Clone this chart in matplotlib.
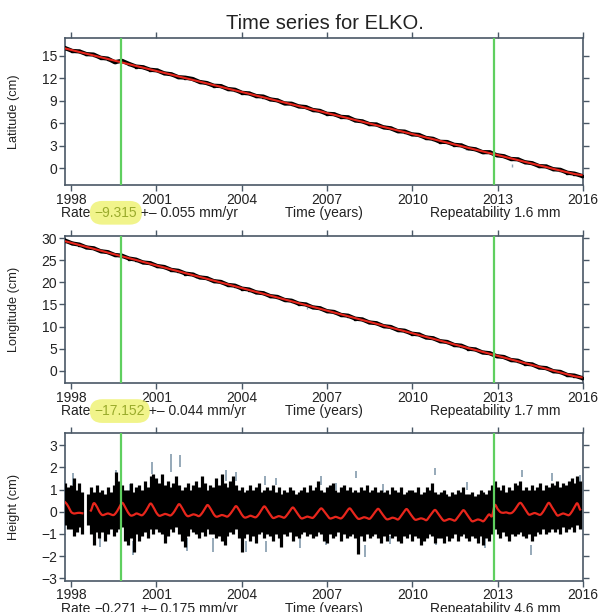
import numpy as np
import matplotlib
matplotlib.use("Agg")
import matplotlib.pyplot as plt

plt.rcParams['font.family'] = ['Liberation Sans', 'DejaVu Sans']

# ---------------- data ----------------
station = "ELKO"
year_ticks = [1998, 2001, 2004, 2007, 2010, 2013, 2016]
events = [1999.75, 2012.88]          # green vertical lines (equipment changes)
t_start, t_end = 1997.8, 2015.95

lat_obs = [16.05, 15.67, 15.61, 15.25, 15.19, 14.76, 14.65, 14.17, 14.36, 13.95,
           13.59, 13.50, 13.16, 13.07, 12.68, 12.56, 12.17, 12.10, 11.93, 11.53,
           11.39, 11.03, 10.98, 10.59, 10.49, 10.08, 10.00, 9.65, 9.58, 9.20,
           9.07, 8.66, 8.63, 8.27, 8.18, 7.79, 7.67, 7.28, 7.23, 6.87,
           6.81, 6.39, 6.27, 5.91, 5.85, 5.47, 5.35, 4.96, 4.90, 4.54,
           4.46, 4.06, 3.94, 3.54, 3.51, 3.14, 3.06, 2.67, 2.54, 2.16,
           2.15, 1.75, 1.62, 1.25, 1.20, 0.81, 0.69, 0.30, 0.25, -0.12,
           -0.20, -0.59, -0.71, -1.00]
lat_model = [16.00, 15.77, 15.53, 15.30, 15.07, 14.84, 14.60, 14.37, 14.14, 13.90,
             13.67, 13.44, 13.21, 12.97, 12.74, 12.51, 12.27, 12.04, 11.81, 11.58,
             11.34, 11.11, 10.88, 10.64, 10.41, 10.18, 9.95, 9.71, 9.48, 9.25,
             9.01, 8.78, 8.55, 8.32, 8.08, 7.85, 7.62, 7.38, 7.15, 6.92,
             6.69, 6.45, 6.22, 5.99, 5.75, 5.52, 5.29, 5.06, 4.82, 4.59,
             4.36, 4.12, 3.89, 3.66, 3.43, 3.19, 2.96, 2.73, 2.49, 2.26,
             2.03, 1.80, 1.56, 1.33, 1.10, 0.86, 0.63, 0.40, 0.17, -0.07,
             -0.30, -0.53, -0.76, -0.90]
lat_out_t = [2001.7, 2011.9, 2013.5]
lat_out_lo = [12.1, 2.4, 0.2]
lat_out_hi = [12.4, 2.7, 0.6]

lon_obs = [29.45, 28.80, 28.55, 27.90, 27.72, 27.05, 26.85, 26.20, 26.05, 25.40,
           25.15, 24.50, 24.35, 23.70, 23.48, 22.82, 22.62, 21.98, 21.78, 21.12,
           20.95, 20.28, 20.10, 19.42, 19.25, 18.58, 18.38, 17.72, 17.55, 16.88,
           16.70, 16.02, 15.85, 15.18, 15.00, 14.33, 14.15, 13.48, 13.30, 12.62,
           12.45, 11.78, 11.60, 10.92, 10.75, 10.08, 9.90, 9.22, 9.05, 8.38,
           8.20, 7.52, 7.35, 6.68, 6.50, 5.82, 5.66, 4.98, 4.80, 4.12,
           3.96, 3.28, 3.10, 2.42, 2.25, 1.58, 1.42, 0.72, 0.58, -0.12,
           -0.28, -0.98, -1.12, -1.62]
lon_model = [29.30, 28.88, 28.45, 28.03, 27.60, 27.18, 26.75, 26.33, 25.90, 25.48,
             25.06, 24.63, 24.21, 23.78, 23.36, 22.93, 22.51, 22.08, 21.66, 21.24,
             20.81, 20.39, 19.96, 19.54, 19.11, 18.69, 18.26, 17.84, 17.42, 16.99,
             16.57, 16.14, 15.72, 15.29, 14.87, 14.44, 14.02, 13.60, 13.17, 12.75,
             12.32, 11.90, 11.47, 11.05, 10.62, 10.20, 9.77, 9.35, 8.93, 8.50,
             8.08, 7.65, 7.23, 6.80, 6.38, 5.95, 5.53, 5.11, 4.68, 4.26,
             3.83, 3.41, 2.98, 2.56, 2.13, 1.71, 1.29, 0.86, 0.44, 0.01,
             -0.41, -0.84, -1.26, -1.52]
lon_out_t = [2002.4, 2006.3]
lon_out_lo = [20.9, 13.9]
lon_out_hi = [21.4, 14.5]

nan = float('nan')
# height: upper / lower envelope of daily points, every 0.1 yr (1997.8 ... 2015.9)
h_hi = [1.3, 1.1,
        1.2, 1.5, 1.0, 1.3, 0.9, nan, 0.8, 1.1, 0.9, 1.2,
        0.9, 1.0, 0.8, 1.1, 0.9, 1.2, 1.8, 1.4, 1.2, 1.0,
        1.0, 1.3, 0.9, 1.1, 1.2, 1.0, 1.4, 1.1, 1.6, 1.7,
        1.5, 1.3, 1.7, 1.2, 1.4, 1.1, 1.3, 1.6, 1.2, 1.0,
        1.1, 1.3, 1.0, 1.2, 1.4, 1.1, 1.6, 1.3, 1.0, 1.2,
        1.1, 1.5, 1.2, 1.7, 1.3, 1.1, 1.4, 1.6, 1.2, 1.0,
        1.1, 0.9, 1.0, 1.2, 1.0, 1.1, 1.3, 0.9, 1.0, 1.1,
        1.0, 1.2, 0.9, 1.1, 0.8, 1.0, 0.9, 1.1, 1.0, 0.8,
        0.9, 1.0, 1.1, 0.9, 1.2, 1.0, 1.1, 1.4, 1.0, 0.9,
        1.1, 1.2, 1.3, 1.0, 0.9, 1.1, 1.2, 1.0, 1.1, 0.9,
        1.0, 0.9, 1.1, 1.0, 1.2, 0.9, 1.0, 1.1, 0.9, 1.0,
        0.9, 1.0, 0.8, 1.1, 1.0, 0.9, 1.1, 0.8, 0.9, 1.0,
        1.0, 0.9, 1.1, 0.8, 0.9, 1.1, 1.0, 1.3, 0.9, 0.8,
        0.9, 1.0, 0.8, 0.7, 0.9, 0.8, 1.0, 0.9, 1.1, 0.8,
        0.8, 0.9, 0.7, 0.8, 1.0, 0.9, 0.8, 1.0, 1.2, 1.4,
        1.1, 1.0, 1.2, 0.9, 1.1, 1.0, 1.3, 1.2, 1.4, 1.0,
        1.1, 1.0, 1.2, 1.0, 1.1, 1.3, 1.0, 1.2, 1.1, 1.3,
        1.2, 1.4, 1.1, 1.3, 1.2, 1.4, 1.5, 1.3, 1.6, 1.4]
h_lo = [-0.6, -0.8,
        -0.8, -1.1, -0.9, -0.7, -1.0, nan, -0.6, -1.0, -1.5, -0.9,
        -1.2, -0.9, -1.3, -1.0, -0.8, -1.1, -0.9, -0.8, -0.7, -1.3,
        -1.5, -1.2, -1.8, -1.0, -1.3, -1.1, -0.9, -1.2, -0.8, -1.0,
        -0.8, -0.9, -1.0, -1.4, -1.1, -0.8, -0.9, -0.7, -1.0, -1.3,
        -1.6, -1.1, -0.8, -0.9, -1.0, -1.2, -0.9, -1.1, -0.8, -1.0,
        -1.0, -1.2, -1.1, -1.3, -1.5, -1.1, -0.9, -1.0, -0.8, -1.2,
        -1.8, -1.2, -1.0, -1.3, -1.1, -1.4, -1.0, -0.9, -1.2, -1.0,
        -1.1, -1.3, -1.0, -1.2, -1.6, -1.0, -1.1, -0.9, -1.3, -1.1,
        -1.2, -1.0, -0.9, -1.1, -1.0, -1.2, -1.1, -0.9, -1.0, -1.3,
        -1.4, -1.0, -1.2, -1.1, -0.9, -1.3, -1.0, -1.2, -1.1, -1.0,
        -1.2, -1.9, -1.1, -1.3, -1.0, -1.2, -1.1, -1.0, -1.2, -1.4,
        -1.1, -1.3, -1.0, -1.2, -1.1, -1.3, -1.4, -1.1, -1.2, -1.0,
        -1.3, -1.1, -1.2, -1.5, -1.3, -1.2, -1.0, -1.1, -1.4, -1.2,
        -1.2, -1.4, -1.1, -1.3, -1.2, -1.0, -1.3, -1.1, -1.0, -1.2,
        -1.3, -1.1, -1.2, -1.4, -1.1, -1.5, -1.2, -1.3, -1.0, -0.8,
        -1.0, -1.2, -0.9, -1.1, -1.3, -1.0, -1.1, -1.0, -0.9, -1.1,
        -1.2, -1.0, -1.3, -1.1, -0.9, -1.0, -0.8, -1.0, -0.9, -0.8,
        -0.9, -0.8, -1.0, -0.7, -0.9, -0.8, -0.7, -0.9, -0.6, -0.8]
h_model = [0.42, 0.25,
           0.00, -0.08, -0.06, -0.05, -0.07, nan, nan, 0.05, 0.38, 0.25,
           0.00, -0.15, -0.12, -0.08, -0.12, -0.15, -0.02, 0.20, 0.40, 0.22,
           -0.02, -0.17, -0.15, -0.08, -0.12, -0.16, -0.03, 0.18, 0.37, 0.20,
           -0.04, -0.18, -0.15, -0.10, -0.13, -0.17, -0.05, 0.15, 0.34, 0.18,
           -0.06, -0.20, -0.17, -0.12, -0.15, -0.20, -0.08, 0.12, 0.30, 0.15,
           -0.08, -0.22, -0.20, -0.15, -0.18, -0.22, -0.10, 0.08, 0.25, 0.10,
           -0.12, -0.26, -0.24, -0.18, -0.22, -0.25, -0.12, 0.08, 0.24, 0.08,
           -0.12, -0.28, -0.25, -0.20, -0.23, -0.27, -0.14, 0.04, 0.19, 0.04,
           -0.15, -0.30, -0.27, -0.22, -0.25, -0.28, -0.15, 0.02, 0.15, 0.02,
           -0.16, -0.30, -0.28, -0.23, -0.27, -0.30, -0.17, 0.02, 0.15, 0.00,
           -0.18, -0.32, -0.30, -0.25, -0.28, -0.32, -0.18, 0.00, 0.13, -0.02,
           -0.20, -0.34, -0.32, -0.27, -0.30, -0.35, -0.20, -0.02, 0.12, -0.04,
           -0.22, -0.36, -0.34, -0.30, -0.33, -0.38, -0.22, -0.05, 0.08, -0.07,
           -0.25, -0.40, -0.38, -0.33, -0.36, -0.40, -0.25, -0.08, 0.07, -0.08,
           -0.27, -0.43, -0.40, -0.35, -0.38, -0.43, -0.28, -0.12, -0.20, 0.30,
           0.12, -0.02, -0.05, -0.03, -0.07, -0.05, 0.08, 0.28, 0.40, 0.25,
           0.05, -0.13, -0.10, -0.06, -0.10, -0.14, 0.00, 0.22, 0.40, 0.22,
           0.02, -0.17, -0.13, -0.08, -0.12, -0.16, -0.02, 0.20, 0.38, 0.10]
# outlier error bars (time, low, high)
h_spk_t = [1998.07, 1999.01, 1999.60, 2000.06, 2000.18, 2000.86, 2001.52, 2001.82, 2002.08,
           2002.99, 2003.46, 2003.81, 2004.17, 2004.81, 2004.87, 2005.22, 2006.04, 2006.80,
           2006.98, 2007.33, 2008.03, 2008.35, 2008.97, 2009.20, 2010.79, 2010.85, 2011.91,
           2012.55, 2012.86, 2013.84, 2014.18, 2014.90, 2015.89]
h_spk_lo = [1.2, -1.6, 1.4, 0.9, -1.95, 1.7, 1.8, 2.0, -1.75,
            -1.8, 1.4, 1.4, -1.8, 1.2, -1.8, 1.2, -1.65, 1.2,
            -1.5, 1.0, 1.5, -2.05, 0.9, -1.45, 1.65, -1.5, 1.0,
            -1.65, 1.8, 1.55, -1.95, 1.4, 1.35]
h_spk_hi = [1.75, -1.1, 1.9, 1.25, -1.3, 2.25, 2.6, 2.55, -1.2,
            -1.2, 1.9, 1.8, -1.3, 1.6, -1.3, 1.5, -1.2, 1.6,
            -1.1, 1.3, 1.85, -1.5, 1.25, -1.1, 1.95, -1.1, 1.35,
            -1.2, 2.25, 1.9, -1.5, 1.75, 1.65]

panels = [
    dict(label="Latitude (cm)", yticks=[0, 3, 6, 9, 12, 15], ylim=(-2.23, 17.4),
         rate="\u22129.315", err="0.055", rep="1.6", hl=True),
    dict(label="Longitude (cm)", yticks=[0, 5, 10, 15, 20, 25, 30], ylim=(-2.86, 30.5),
         rate="\u221217.152", err="0.044", rep="1.7", hl=True),
    dict(label="Height (cm)", yticks=[-3, -2, -1, 0, 1, 2, 3], ylim=(-3.11, 3.53),
         rate="\u22120.271", err="0.175", rep="4.6", hl=False),
]


def smooth_segments(t, y, n=8):
    """Catmull-Rom resampling of each NaN-free run (drawing only)."""
    t = np.asarray(t, float)
    y = np.asarray(y, float)
    xs, ys = [], []
    good = ~np.isnan(y)
    idx = np.flatnonzero(good)
    runs = np.split(idx, np.flatnonzero(np.diff(idx) > 1) + 1)
    for r in runs:
        if len(r) < 2:
            continue
        tt, yy = t[r], y[r]
        p = np.concatenate([[yy[0]], yy, [yy[-1]]])
        for i in range(len(tt) - 1):
            s = np.linspace(0, 1, n, endpoint=False)
            p0, p1, p2, p3 = p[i], p[i + 1], p[i + 2], p[i + 3]
            v = 0.5 * ((2 * p1) + (-p0 + p2) * s + (2 * p0 - 5 * p1 + 4 * p2 - p3) * s ** 2
                       + (-p0 + 3 * p1 - 3 * p2 + p3) * s ** 3)
            xs.append(tt[i] + (tt[i + 1] - tt[i]) * s)
            ys.append(v)
        xs.append([tt[-1]])
        ys.append([yy[-1]])
        xs.append([np.nan])
        ys.append([np.nan])
    return np.concatenate(xs), np.concatenate(ys)


# ---------------- figure ----------------
SPINE = '#4a5866'
TXT = '#222222'
RED = '#e8261c'
GREEN = '#5fcf5f'
ERR = '#8ea3b3'

fig = plt.figure(figsize=(6, 6.12), dpi=100)
fig.patch.set_facecolor('white')
boxes = [[0.1083, 0.6977, 0.8633, 0.2402],
         [0.1083, 0.3737, 0.8633, 0.2407],
         [0.1083, 0.0511, 0.8633, 0.2408]]
axes = [fig.add_axes(b) for b in boxes]

t_lat = np.linspace(t_start, t_end, len(lat_obs))
t_lon = np.linspace(t_start, t_end, len(lon_obs))
t_h = np.linspace(t_start, t_start + 0.1 * (len(h_hi) - 1), len(h_hi))

ax = axes[0]
ax.vlines(lat_out_t, lat_out_lo, lat_out_hi, color=ERR, lw=1.0, zorder=2)
ax.plot(t_lat, lat_obs, color='black', lw=3.0, zorder=3)
ax.plot(t_lat, lat_obs, 's', color='black', ms=2.0, zorder=3)
ax.plot(t_lat, lat_model, color=RED, lw=1.5, zorder=4)

ax = axes[1]
ax.vlines(lon_out_t, lon_out_lo, lon_out_hi, color=ERR, lw=1.0, zorder=2)
ax.plot(t_lon, lon_obs, color='black', lw=3.0, zorder=3)
ax.plot(t_lon, lon_obs, 's', color='black', ms=2.0, zorder=3)
ax.plot(t_lon, lon_model, color=RED, lw=1.5, zorder=4)

ax = axes[2]
ax.vlines(h_spk_t, h_spk_lo, h_spk_hi, color=ERR, lw=1.3, zorder=2)
ax.vlines(t_h, h_lo, h_hi, color='black', lw=2.3, zorder=3)
sx, sy = smooth_segments(t_h, h_model)
ax.plot(sx, sy, color=RED, lw=1.6, zorder=4)

for ax, p in zip(axes, panels):
    for ev in events:
        ax.axvline(ev, color=GREEN, lw=1.6, zorder=5)
    ax.set_xlim(1997.79, 2016.0)
    ax.set_ylim(*p['ylim'])
    ax.set_xticks(year_ticks)
    ax.set_yticks(p['yticks'])
    ax.tick_params(direction='out', top=True, right=True, labeltop=False,
                   labelright=False, length=4, width=1.0, color=SPINE,
                   labelcolor=TXT, labelsize=10, pad=1.5)
    for s in ax.spines.values():
        s.set_color(SPINE)
        s.set_linewidth(1.2)
    ax.set_ylabel(p['label'], fontsize=9.2, color=TXT)
    ax.yaxis.set_label_coords(-0.087, 0.5)

    # text line under the axis
    off = -20
    t1 = ax.annotate("Rate ", xy=(-0.007, 0), xycoords='axes fraction',
                     xytext=(0, off), textcoords='offset points',
                     ha='left', va='center', fontsize=10, color=TXT)
    if p['hl']:
        t2 = ax.annotate(p['rate'], xy=(1, 0), xycoords=t1, ha='left', va='bottom',
                         fontsize=10, color='#9aab2c',
                         bbox=dict(boxstyle='round,pad=0.35,rounding_size=0.9',
                                   fc='#eef26e', ec='none', alpha=0.8))
    else:
        t2 = ax.annotate(p['rate'], xy=(1, 0), xycoords=t1, ha='left', va='bottom',
                         fontsize=10, color=TXT)
    ax.annotate(" +\u2013 " + p['err'] + " mm/yr", xy=(1, 0), xycoords=t2,
                ha='left', va='bottom', fontsize=10, color=TXT)
    ax.annotate("Time (years)", xy=(0.5, 0), xycoords='axes fraction',
                xytext=(0, off), textcoords='offset points',
                ha='center', va='center', fontsize=10, color=TXT)
    ax.annotate("Repeatability " + p['rep'] + " mm", xy=(0.705, 0),
                xycoords='axes fraction', xytext=(0, off), textcoords='offset points',
                ha='left', va='center', fontsize=10, color=TXT)

fig.text(0.5417, 0.961, "Time series for " + station + ".", ha='center', va='center',
         fontsize=14.5, color=TXT)

fig.savefig("out.png", dpi=100, facecolor='white')
